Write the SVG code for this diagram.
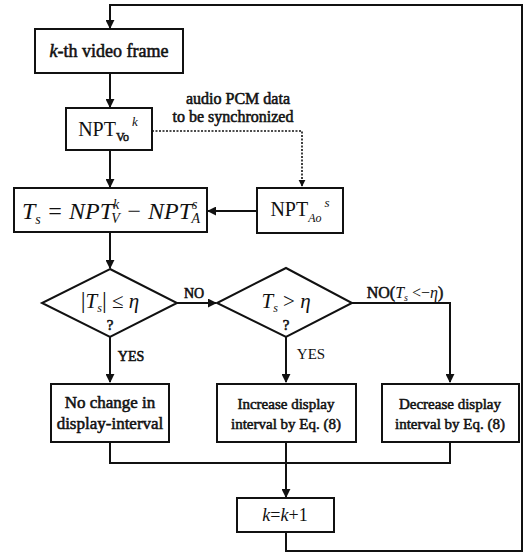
<svg xmlns="http://www.w3.org/2000/svg" width="526" height="555" viewBox="0 0 526 555">
<defs>
<style>
.box{fill:#fff;stroke:#111;stroke-width:2}
.ln{fill:none;stroke:#111;stroke-width:2}
.dot{fill:none;stroke:#111;stroke-width:1.6;stroke-dasharray:2 1.5}
.t{font-family:"Liberation Serif","Times New Roman",serif;font-weight:normal;fill:#111;stroke:#111;stroke-width:0.55;text-anchor:middle}
.r{font-family:"Liberation Serif","Times New Roman",serif;font-weight:normal;fill:#111;text-anchor:middle}
.m{font-family:"Liberation Serif","Times New Roman",serif;font-style:italic;fill:#111;text-anchor:middle}
.i{font-style:italic}
.n{font-style:normal}
.ns{stroke:none}
.bs{stroke:#111;stroke-width:0.5}
</style>
<marker id="ah" viewBox="0 0 10 10" refX="9" refY="5" markerWidth="4.5" markerHeight="4.5" orient="auto"><path d="M0,0 L10,5 L0,10 z" fill="#111"/></marker>
</defs>
<rect width="526" height="555" fill="#fff"/>
<g id="connectors">
<path class="ln" d="M286,532 V551 H522 V5 H110 V28" marker-end="url(#ah)"/>
<path class="ln" d="M110,73 V107" marker-end="url(#ah)"/>
<path class="dot" d="M152,131 H302 V186" marker-end="url(#ah)"/>
<path class="ln" d="M110,150 V187" marker-end="url(#ah)"/>
<path class="ln" d="M257,211 H208" marker-end="url(#ah)"/>
<path class="ln" d="M110,232 V268" marker-end="url(#ah)"/>
<path class="ln" d="M177,303 H216" marker-end="url(#ah)"/>
<path class="ln" d="M110,337 V382" marker-end="url(#ah)"/>
<path class="ln" d="M286,337 V382" marker-end="url(#ah)"/>
<path class="ln" d="M352,303 H450 V382" marker-end="url(#ah)"/>
<path class="ln" d="M110,442 V463 H450 V442"/>
<path class="ln" d="M286,442 V497" marker-end="url(#ah)"/>
</g>
<g id="labels">
<text class="t" x="238" y="104" font-size="16">audio PCM data</text>
<text class="t" x="233" y="122" font-size="16">to be synchronized</text>
<text class="t" x="194" y="298" font-size="14">NO</text>
<text class="t" x="405" y="298" font-size="16">NO(<tspan class="i ns">T</tspan><tspan class="i ns" font-size="10" dy="3">s</tspan><tspan class="ns" dy="-3"> &lt;−</tspan><tspan class="i ns">η</tspan>)</text>
<text class="t" x="131" y="361" font-size="14">YES</text>
<text class="r" x="311" y="359" font-size="15">YES</text>
</g>
<g id="n_frame">
<rect class="box" x="35" y="29" width="148" height="44"/>
<text class="t" x="109" y="57" font-size="18"><tspan class="i">k</tspan>-th video frame</text>
</g>
<g id="n_nptv">
<rect class="box" x="66" y="108" width="86" height="42"/>
<text class="r" x="108" y="136" font-size="20">NPT<tspan class="bs" font-size="12" dy="5">Vo</tspan><tspan class="i" font-size="13" dx="3" dy="-15">k</tspan></text>
</g>
<g id="n_npta">
<rect class="box" x="257" y="188" width="86" height="45"/>
<text class="r" x="300" y="216" font-size="20">NPT<tspan class="i" font-size="12" dy="6">Ao</tspan><tspan class="i" font-size="13" dx="3" dy="-15">s</tspan></text>
</g>
<g id="n_ts">
<rect class="box" x="14" y="188" width="193" height="44"/>
<text class="m" x="111" y="219" font-size="24">T<tspan font-size="14" dy="5">s</tspan><tspan dy="-5"> = NPT</tspan><tspan font-size="14" dy="-10">k</tspan><tspan font-size="14" dx="-8" dy="14">V</tspan><tspan dy="-4"> − NPT</tspan><tspan font-size="14" dy="-10">s</tspan><tspan font-size="14" dx="-6" dy="14">A</tspan></text>
</g>
<g id="n_d1">
<polygon class="box" points="110,269 177,303 110,337 42,303"/>
<text class="m" x="110" y="308" font-size="21"><tspan class="n" font-size="24">|</tspan>T<tspan font-size="12" dy="4">s</tspan><tspan class="n" font-size="24" dy="-4">|</tspan><tspan class="n"> ≤ </tspan>η</text>
<text class="t" x="110" y="330" font-size="15">?</text>
</g>
<g id="n_d2">
<polygon class="box" points="286,268 352,303 286,337 217,303"/>
<text class="m" x="286" y="308" font-size="21">T<tspan font-size="12" dy="4">s</tspan><tspan class="n" dy="-4"> &gt; </tspan>η</text>
<text class="t" x="286" y="330" font-size="15">?</text>
</g>
<g id="n_nochange">
<rect class="box" x="51" y="384" width="118" height="58"/>
<text class="t" x="110" y="408" font-size="17">No change in</text>
<text class="t" x="110" y="429" font-size="17">display-interval</text>
</g>
<g id="n_increase">
<rect class="box" x="217" y="384" width="139" height="58"/>
<text class="t" x="286" y="409" font-size="15">Increase display</text>
<text class="t" x="286" y="429" font-size="15">interval by Eq. (8)</text>
</g>
<g id="n_decrease">
<rect class="box" x="382" y="384" width="137" height="58"/>
<text class="t" x="450" y="409" font-size="15">Decrease display</text>
<text class="t" x="450" y="429" font-size="15">interval by Eq. (8)</text>
</g>
<g id="n_kinc">
<rect class="box" x="237" y="498" width="97" height="34"/>
<text class="r" x="285" y="521" font-size="18"><tspan class="i">k</tspan>=<tspan class="i">k</tspan>+1</text>
</g>
</svg>
